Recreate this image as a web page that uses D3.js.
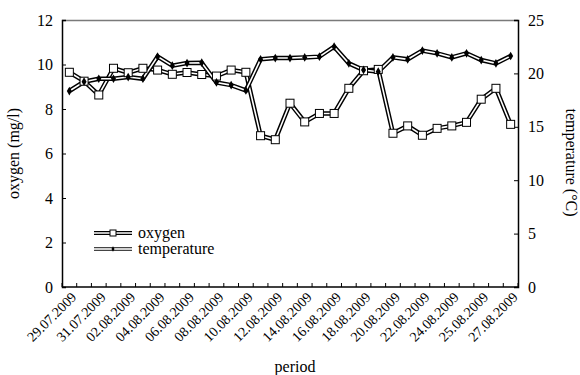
<!DOCTYPE html>
<html>
<head>
<meta charset="utf-8">
<script src="https://cdn.jsdelivr.net/npm/d3@7"></script>
<style>
  body { margin: 0; background: #fff; }
  svg, svg text { font-family: "Liberation Serif", "Times New Roman", Times, serif; }
</style>
</head>
<body>
<div id="chart"></div>
<script>
let width = 580, height = 375;
let margin = { left: 62, right: 62, top: 20, bottom: 88 };
let serif = "'Liberation Serif', 'Times New Roman', Times, serif";

// data
let dates = ["29.07.2009", "30.07.2009", "31.07.2009", "01.08.2009", "02.08.2009", "03.08.2009",
  "04.08.2009", "05.08.2009", "06.08.2009", "07.08.2009", "08.08.2009", "09.08.2009",
  "10.08.2009", "11.08.2009", "12.08.2009", "13.08.2009", "14.08.2009", "15.08.2009",
  "16.08.2009", "17.08.2009", "18.08.2009", "19.08.2009", "20.08.2009", "21.08.2009",
  "22.08.2009", "23.08.2009", "24.08.2009", "24.08.2009", "25.08.2009", "26.08.2009", "27.08.2009"];
let oxygen = [9.65, 9.25, 8.63, 9.83, 9.63, 9.83, 9.75, 9.56, 9.64, 9.55, 9.48, 9.75, 9.65,
  6.8, 6.62, 8.26, 7.42, 7.8, 7.8, 8.93, 9.72, 9.78, 6.91, 7.24, 6.82, 7.13, 7.24, 7.4, 8.44, 8.93, 7.31];
let temperature = [18.35, 19.22, 19.5, 19.5, 19.66, 19.5, 21.57, 20.72, 20.97, 21.0, 19.15, 18.9, 18.4,
  21.32, 21.44, 21.44, 21.5, 21.57, 22.5, 20.94, 20.32, 20.16, 21.5, 21.32, 22.13, 21.88, 21.5, 21.88,
  21.25, 20.94, 21.63];
let leftTicks = [0, 2, 4, 6, 8, 10, 12];
let rightTicks = [0, 5, 10, 15, 20, 25];

let svg = d3.select("#chart").append("svg")
  .attr("width", width)
  .attr("height", height)
  .attr("font-family", serif);

let x0 = margin.left, x1 = width - margin.right;
let y0 = height - margin.bottom, y1 = margin.top;

let xScale = d3.scaleBand()
  .domain(d3.range(dates.length))
  .range([x0, x1])
  .paddingInner(0).paddingOuter(0);

let yLeft = d3.scaleLinear().domain([0, 12]).range([y0, y1]);
let yRight = d3.scaleLinear().domain([0, 25]).range([y0, y1]);

// frame: top border grey
svg.append("line")
  .attr("x1", x0).attr("x2", x1)
  .attr("y1", y1 + 0.5).attr("y2", y1 + 0.5)
  .attr("stroke", "#7a7a7a").attr("stroke-width", 1.5);

// left axis
let gl = svg.append("g")
  .attr("transform", "translate(" + x0 + ",0)")
  .call(d3.axisLeft(yLeft).tickValues(leftTicks).tickSize(-4).tickPadding(9));
// right axis
let gr = svg.append("g")
  .attr("transform", "translate(" + x1 + ",0)")
  .call(d3.axisRight(yRight).tickValues(rightTicks).tickSize(-4).tickPadding(10));
// bottom axis, ticks on category boundaries
let gb = svg.append("g")
  .attr("transform", "translate(0," + y0 + ")");
gb.append("line")
  .attr("x1", x0).attr("x2", x1)
  .attr("stroke", "#000").attr("stroke-width", 1.5);
gb.selectAll("line.tick")
  .data(d3.range(dates.length + 1))
  .enter().append("line")
  .attr("class", "tick")
  .attr("x1", i => x0 + i * xScale.bandwidth())
  .attr("x2", i => x0 + i * xScale.bandwidth())
  .attr("y1", 0).attr("y2", -4)
  .attr("stroke", "#000");
gb.selectAll("text")
  .data(d3.range(0, dates.length, 2))
  .enter().append("text")
  .attr("transform", i => "translate(" + (xScale(i) + xScale.bandwidth() / 2 + 1) + ",4) rotate(-45)")
  .attr("text-anchor", "end")
  .attr("dy", "0.7em")
  .attr("font-size", "14px")
  .attr("font-family", serif)
  .attr("fill", "#000")
  .text(i => dates[i]);

[gl, gr].forEach(g => {
  g.attr("font-family", serif);
  g.select(".domain").attr("stroke-width", 1.5);
  g.selectAll("text").attr("font-size", "16px").attr("font-family", serif);
});

// axis titles
svg.append("text")
  .attr("transform", "translate(19," + (y0 + y1) / 2 + ") rotate(-90)")
  .attr("text-anchor", "middle")
  .attr("font-size", "16px")
  .attr("font-family", serif)
  .text("oxygen (mg/l)");
svg.append("text")
  .attr("transform", "translate(566," + ((y0 + y1) / 2 + 9) + ") rotate(90)")
  .attr("text-anchor", "middle")
  .attr("font-size", "16px")
  .attr("font-family", serif)
  .text("temperature (°C)");
svg.append("text")
  .attr("x", 295).attr("y", 372)
  .attr("text-anchor", "middle")
  .attr("font-size", "16px")
  .attr("font-family", serif)
  .text("period");

let cx = (d, i) => xScale(i) + xScale.bandwidth() / 2;

function doubleLine(values, scale) {
  let line = d3.line().x(cx).y(d => scale(d));
  svg.append("path").datum(values)
    .attr("d", line).attr("fill", "none")
    .attr("stroke", "#000").attr("stroke-width", 4.5)
    .attr("stroke-linejoin", "miter");
  svg.append("path").datum(values)
    .attr("d", line).attr("fill", "none")
    .attr("stroke", "#fff").attr("stroke-width", 1.6);
}

doubleLine(oxygen, yLeft);
doubleLine(temperature, yRight);

svg.selectAll("rect.oxy")
  .data(oxygen)
  .enter().append("rect")
  .attr("class", "oxy")
  .attr("x", (d, i) => cx(d, i) - 4)
  .attr("y", d => yLeft(d) - 4)
  .attr("width", 8).attr("height", 8)
  .attr("fill", "#fff").attr("stroke", "#000");

svg.selectAll("path.temp")
  .data(temperature)
  .enter().append("path")
  .attr("class", "temp")
  .attr("transform", (d, i) => "translate(" + cx(d, i) + "," + yRight(d) + ")")
  .attr("d", d3.symbol(d3.symbolDiamond, 22))
  .attr("fill", "#000");

// legend
let legend = svg.append("g").attr("transform", "translate(94,233)");
let items = [{ name: "oxygen", y: 0 }, { name: "temperature", y: 16 }];
items.forEach(it => {
  legend.append("line").attr("x1", 0).attr("x2", 38).attr("y1", it.y).attr("y2", it.y)
    .attr("stroke", it.name == "oxygen" ? "#000" : "#444").attr("stroke-width", 4);
  legend.append("line").attr("x1", 0).attr("x2", 38).attr("y1", it.y).attr("y2", it.y)
    .attr("stroke", "#fff").attr("stroke-width", 1.4);
  legend.append("text").attr("x", 44).attr("y", it.y).attr("dy", "0.32em")
    .attr("font-size", "16px").attr("font-family", serif).text(it.name);
});
legend.append("rect").attr("x", 16).attr("y", -3).attr("width", 6).attr("height", 6)
  .attr("fill", "#fff").attr("stroke", "#000");
legend.append("path").attr("transform", "translate(19,16)")
  .attr("d", d3.symbol(d3.symbolDiamond, 8)).attr("fill", "#000");
</script>
</body>
</html>
